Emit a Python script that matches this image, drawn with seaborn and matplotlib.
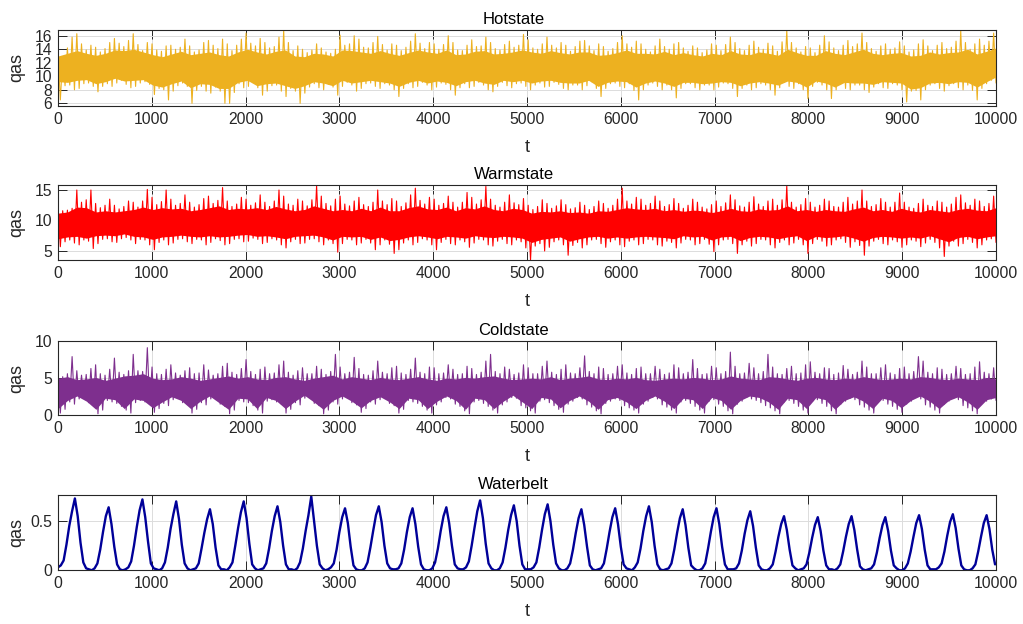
import numpy as np
import pandas as pd
import matplotlib
matplotlib.use("Agg")
import matplotlib.pyplot as plt
import seaborn as sns

sns.set_theme(style="white")
plt.rcParams['font.family'] = ['Liberation Sans', 'DejaVu Sans']

# ---- Hotstate: extremes per 50-step window, dense band per 100-step window ----
hot_max = [13.3, 12.9, 14.2, 15.8, 16.3, 14.8, 13.9, 14.6, 14.3, 13.6,
           14.1, 15.0, 15.6, 14.9, 14.4, 15.3, 16.3, 14.7, 13.8, 15.0,
           14.8, 13.9, 13.7, 14.5, 14.6, 14.0, 14.3, 15.5, 14.5, 13.6,
           13.9, 15.0, 15.3, 14.6, 14.1, 15.5, 14.8, 13.8, 14.6, 15.5,
           16.4, 14.9, 14.5, 15.6, 15.0, 14.2, 14.4, 15.8, 16.8, 15.0,
           13.8, 14.5, 14.0, 13.5, 13.9, 14.8, 14.2, 13.6, 13.4, 14.0,
           16.1, 14.6, 14.8, 16.0, 15.5, 14.3, 14.2, 15.0, 15.9, 14.7,
           13.9, 14.8, 14.6, 13.8, 14.3, 15.2, 16.3, 14.9, 14.1, 15.0,
           14.8, 14.0, 14.7, 16.0, 15.0, 13.9, 13.8, 14.6, 15.4, 14.4,
           14.5, 15.8, 15.0, 14.1, 13.9, 14.7, 15.2, 14.3, 14.6, 16.2,
           15.4, 14.2, 14.0, 14.8, 15.8, 14.6, 14.2, 15.0, 14.6, 13.7,
           14.4, 15.2, 15.3, 14.5, 13.8, 14.8, 14.4, 13.7, 14.1, 15.0,
           16.0, 14.8, 14.3, 15.2, 14.8, 14.0, 13.6, 14.5, 15.5, 14.4,
           14.0, 14.8, 15.0, 14.2, 13.7, 14.5, 14.2, 13.5, 13.9, 14.8,
           14.6, 13.8, 14.7, 15.8, 15.0, 14.1, 13.8, 14.6, 15.2, 14.3,
           14.0, 14.9, 14.5, 13.7, 15.1, 16.8, 15.0, 14.2, 13.6, 14.4,
           14.2, 13.5, 14.6, 16.0, 15.1, 14.2, 13.8, 14.6, 15.3, 14.4,
           14.8, 16.4, 15.0, 14.1, 13.7, 14.5, 14.8, 14.0, 14.2, 15.1,
           14.5, 13.6, 13.9, 14.8, 15.4, 14.5, 13.8, 14.6, 15.0, 14.1,
           14.3, 15.2, 16.7, 15.0, 14.0, 14.8, 15.5, 14.6, 15.2, 16.4]
hot_min = [6.5, 8.6, 8.7, 8.0, 8.2, 8.9, 9.0, 8.5, 7.7, 8.5,
           8.9, 8.5, 9.0, 9.4, 8.8, 8.3, 8.5, 9.0, 9.2, 8.8,
           7.3, 8.2, 8.0, 6.5, 7.8, 8.6, 9.0, 8.5, 6.0, 7.9,
           8.5, 7.8, 7.5, 8.4, 7.8, 6.0, 6.0, 7.6, 8.9, 8.3,
           8.5, 9.1, 8.3, 7.2, 7.8, 8.6, 8.7, 7.8, 7.0, 8.2,
           7.8, 6.0, 7.5, 8.4, 8.9, 8.3, 8.0, 8.8, 8.4, 7.2,
           8.5, 9.1, 8.7, 7.8, 8.2, 8.9, 9.0, 8.5, 8.2, 8.9,
           8.7, 8.0, 7.0, 8.2, 8.9, 8.3, 8.5, 9.1, 8.7, 8.0,
           8.4, 9.0, 8.8, 8.0, 7.2, 8.3, 8.9, 8.3, 8.5, 9.1,
           8.7, 8.0, 7.7, 8.5, 9.1, 8.6, 8.3, 8.9, 9.0, 8.5,
           8.0, 8.7, 9.0, 8.4, 8.5, 9.1, 8.8, 8.2, 8.0, 8.7,
           8.7, 8.0, 8.6, 9.2, 8.2, 7.0, 8.2, 8.9, 9.0, 8.5,
           8.3, 8.9, 7.9, 6.5, 8.0, 8.7, 9.0, 8.5, 8.0, 8.7,
           8.0, 6.8, 8.2, 8.9, 8.9, 8.3, 8.0, 8.7, 8.7, 8.0,
           8.4, 9.0, 8.9, 8.2, 7.0, 8.2, 8.7, 8.0, 8.3, 8.9,
           8.7, 8.0, 7.2, 8.3, 9.1, 8.5, 8.2, 8.9, 8.0, 6.7,
           8.5, 9.1, 8.7, 8.0, 6.7, 8.0, 8.9, 8.2, 8.0, 8.7,
           8.7, 8.0, 7.6, 8.4, 8.9, 8.3, 8.2, 8.9, 8.7, 8.0,
           6.2, 7.8, 7.9, 6.5, 8.0, 8.7, 8.9, 8.2, 7.8, 8.6,
           8.9, 8.3, 8.0, 8.7, 7.9, 6.5, 8.2, 8.9, 9.4, 9.0]
hot_top = [13.0, 13.4, 13.8, 13.4, 13.1, 13.4, 13.9, 13.8, 14.0, 13.6,
           13.2, 12.9, 13.3, 13.7, 13.2, 13.4, 13.6, 13.2, 13.0, 13.6,
           14.0, 13.6, 13.3, 13.7, 13.9, 13.0, 12.9, 13.4, 13.3, 13.0,
           13.9, 13.8, 13.6, 13.4, 13.8, 13.4, 13.1, 13.5, 13.9, 13.6,
           13.4, 13.9, 13.2, 13.3, 13.7, 13.8, 13.3, 13.4, 13.6, 13.9,
           13.6, 13.4, 13.8, 13.5, 13.3, 13.6, 13.6, 13.1, 13.2, 13.5,
           13.9, 13.4, 13.4, 13.3, 13.7, 13.2, 13.5, 13.2, 13.0, 13.4,
           13.2, 13.8, 13.3, 13.2, 13.6, 13.4, 13.1, 14.0, 13.5, 13.1,
           13.1, 13.8, 13.4, 13.2, 13.6, 14.0, 13.4, 13.2, 13.4, 13.5,
           13.0, 13.1, 13.6, 13.3, 13.5, 13.6, 14.0, 13.3, 13.7, 14.2]
hot_bot = [9.2, 9.1, 9.4, 9.5, 8.9, 9.2, 9.7, 9.3, 9.4, 9.5,
           8.7, 8.4, 8.9, 9.3, 8.3, 8.9, 8.8, 8.2, 8.2, 9.1,
           9.4, 8.6, 8.9, 9.0, 8.6, 8.2, 8.6, 9.2, 9.0, 8.6,
           9.4, 9.0, 9.2, 9.4, 9.2, 9.0, 8.5, 9.1, 9.4, 9.0,
           9.3, 9.1, 8.6, 9.2, 9.4, 9.0, 8.8, 9.4, 9.2, 9.4,
           9.0, 9.3, 9.4, 9.1, 9.0, 9.0, 9.4, 8.5, 9.1, 9.3,
           9.2, 8.4, 9.0, 9.3, 9.0, 8.5, 9.1, 9.1, 8.9, 9.0,
           9.2, 9.1, 8.6, 9.0, 9.2, 9.0, 8.7, 9.3, 9.1, 8.4,
           9.3, 9.0, 8.4, 9.1, 9.0, 9.0, 8.8, 9.2, 9.1, 9.0,
           8.1, 8.3, 9.0, 9.1, 8.9, 9.2, 9.1, 8.4, 9.2, 9.9]

# ---- Warmstate ----
warm_max = [12.2, 11.6, 11.7, 12.0, 15.0, 13.0, 13.4, 15.0, 12.8, 12.1,
            12.5, 13.5, 12.5, 11.9, 12.3, 13.2, 13.0, 12.2, 13.2, 15.1,
            13.8, 12.6, 13.1, 15.0, 13.5, 12.5, 12.8, 14.2, 13.0, 12.2,
            12.6, 13.6, 14.0, 12.8, 13.3, 15.4, 13.2, 12.3, 12.7, 13.8,
            13.5, 12.5, 12.9, 14.2, 13.0, 12.3, 13.2, 15.0, 14.0, 12.7,
            12.5, 13.5, 13.2, 12.4, 13.4, 15.7, 14.0, 12.8, 12.4, 13.5,
            14.0, 12.7, 12.4, 13.2, 13.8, 12.6, 12.3, 13.0, 15.0, 13.2,
            12.6, 13.6, 13.2, 12.3, 12.9, 14.2, 15.3, 13.3, 12.7, 13.8,
            13.5, 12.5, 12.8, 14.0, 13.0, 12.2, 13.0, 14.6, 13.8, 12.7,
            13.4, 15.6, 13.5, 12.5, 12.2, 13.0, 14.2, 12.9, 12.6, 13.6,
            12.5, 11.8, 12.3, 13.4, 12.8, 12.0, 12.4, 13.4, 12.6, 11.9,
            12.1, 13.0, 12.5, 11.8, 12.3, 13.2, 12.8, 12.0, 12.5, 13.5,
            15.3, 13.2, 12.7, 13.8, 13.5, 12.5, 12.8, 14.0, 13.2, 12.3,
            12.6, 13.6, 12.8, 12.0, 12.5, 13.5, 13.0, 12.2, 11.9, 12.6,
            13.2, 12.3, 12.9, 14.2, 13.4, 12.4, 12.2, 13.0, 13.9, 12.7,
            12.3, 13.2, 13.5, 12.5, 13.4, 15.7, 13.0, 12.2, 12.6, 13.6,
            13.0, 12.2, 12.5, 13.5, 13.2, 12.3, 12.2, 13.0, 13.8, 12.7,
            13.2, 15.0, 13.2, 12.3, 12.6, 13.6, 13.0, 12.2, 13.0, 14.5,
            13.0, 12.2, 12.0, 12.8, 13.5, 12.5, 12.3, 13.2, 13.0, 12.2,
            12.7, 13.8, 14.2, 12.9, 12.5, 13.5, 13.2, 12.3, 12.8, 14.0]
warm_min = [5.7, 6.5, 6.8, 6.3, 6.0, 6.8, 6.6, 5.4, 6.2, 6.9,
            7.0, 6.5, 6.4, 7.0, 7.2, 6.8, 6.2, 6.9, 6.8, 6.0,
            5.2, 6.4, 6.8, 6.0, 6.3, 6.9, 7.0, 6.5, 6.2, 6.9,
            6.8, 6.0, 6.4, 7.0, 6.7, 6.0, 6.2, 6.9, 7.0, 6.5,
            6.6, 7.1, 6.9, 6.2, 6.4, 7.0, 6.8, 6.0, 5.5, 6.5,
            6.9, 6.2, 6.3, 6.9, 7.0, 6.5, 6.0, 6.8, 6.2, 4.8,
            6.2, 6.9, 6.8, 6.0, 6.3, 6.9, 6.3, 5.2, 6.0, 6.8,
            6.1, 4.6, 5.2, 6.3, 6.8, 6.0, 6.4, 7.0, 6.8, 6.0,
            5.2, 6.4, 6.9, 6.2, 6.0, 6.8, 6.5, 5.6, 6.3, 6.9,
            6.8, 6.0, 5.8, 6.6, 6.9, 6.2, 6.0, 6.8, 6.5, 5.5,
            3.5, 5.8, 6.2, 5.0, 5.6, 6.5, 6.8, 6.0, 4.3, 5.9,
            6.4, 5.5, 6.0, 6.8, 6.9, 6.2, 5.6, 6.5, 6.8, 6.0,
            5.7, 6.6, 6.8, 6.0, 6.2, 6.9, 6.8, 6.0, 5.8, 6.6,
            6.4, 5.5, 6.3, 6.9, 6.8, 6.0, 6.2, 6.9, 6.1, 4.9,
            6.0, 6.8, 6.9, 6.2, 4.6, 6.0, 6.6, 5.8, 6.2, 6.9,
            6.8, 6.0, 5.5, 6.4, 6.8, 6.0, 6.3, 6.9, 6.0, 4.6,
            6.2, 6.9, 6.6, 5.8, 6.0, 6.8, 7.0, 6.4, 5.6, 6.5,
            5.9, 4.3, 5.8, 6.6, 6.9, 6.2, 6.0, 6.8, 6.5, 5.6,
            6.0, 6.8, 6.6, 5.7, 6.3, 6.9, 6.4, 5.5, 4.1, 5.8,
            6.6, 5.8, 6.2, 6.9, 6.4, 5.5, 6.0, 6.8, 7.0, 6.4]
warm_top = [11.2, 11.4, 12.2, 12.1, 11.4, 11.6, 11.4, 11.6, 11.8, 12.2,
            11.8, 12.1, 11.9, 12.0, 11.6, 11.8, 12.1, 12.4, 11.8, 12.0,
            11.9, 12.1, 11.8, 12.3, 11.9, 11.6, 11.8, 12.4, 12.0, 11.6,
            11.8, 11.6, 12.0, 11.6, 12.2, 11.6, 11.6, 12.1, 12.4, 11.9,
            11.8, 12.2, 11.6, 12.1, 11.9, 12.4, 11.8, 11.6, 12.0, 11.8,
            11.2, 11.5, 11.4, 11.6, 11.3, 11.4, 11.2, 11.6, 11.5, 11.8,
            12.1, 11.9, 11.8, 12.0, 11.6, 11.8, 11.5, 11.7, 11.6, 11.3,
            11.6, 12.0, 11.6, 11.5, 11.9, 11.7, 11.8, 12.4, 11.6, 11.8,
            11.5, 11.8, 11.6, 11.5, 11.9, 12.2, 11.6, 11.8, 11.5, 12.0,
            11.6, 11.4, 11.8, 11.6, 11.4, 11.8, 12.0, 11.7, 11.6, 12.1]
warm_bot = [7.0, 7.3, 7.4, 7.1, 7.5, 7.6, 7.5, 7.8, 7.4, 7.3,
            6.9, 7.3, 7.4, 7.6, 7.4, 7.3, 7.5, 7.3, 7.4, 7.6,
            7.7, 7.4, 7.5, 7.3, 7.0, 7.4, 7.5, 7.6, 7.3, 6.8,
            7.4, 7.3, 7.4, 6.9, 7.3, 6.7, 6.9, 7.3, 7.5, 7.3,
            7.0, 7.4, 7.3, 7.1, 7.5, 7.3, 7.2, 7.4, 7.3, 7.1,
            6.4, 6.9, 7.1, 7.3, 6.6, 7.0, 7.3, 7.4, 7.1, 7.3,
            7.1, 7.3, 7.4, 7.3, 7.2, 7.0, 7.5, 7.3, 7.4, 6.8,
            7.3, 7.4, 6.7, 7.2, 7.4, 7.3, 7.0, 7.3, 7.5, 6.7,
            7.4, 7.2, 7.3, 7.5, 7.1, 6.6, 7.2, 7.4, 7.3, 7.1,
            7.3, 7.1, 7.5, 7.0, 6.5, 7.2, 7.4, 7.0, 7.3, 7.5]

# ---- Coldstate ----
cold_max = [5.5, 5.2, 5.6, 7.9, 6.0, 5.4, 5.5, 6.3, 6.8, 5.6,
            5.4, 6.2, 7.7, 5.8, 5.5, 6.0, 8.2, 6.0, 5.9, 9.1,
            6.5, 5.6, 5.5, 6.2, 6.8, 5.7, 5.4, 6.0, 6.4, 5.6,
            5.7, 6.8, 6.1, 5.4, 5.6, 6.6, 7.0, 5.8, 5.5, 6.3,
            7.5, 5.9, 5.5, 6.2, 6.5, 5.6, 5.7, 6.8, 7.3, 5.8,
            5.4, 6.0, 6.4, 5.6, 5.6, 6.6, 6.2, 5.5, 5.9, 8.2,
            6.5, 5.6, 5.8, 7.8, 6.3, 5.5, 5.4, 6.0, 7.3, 5.8,
            5.6, 6.4, 6.6, 5.7, 5.5, 6.2, 7.7, 5.8, 5.6, 6.5,
            6.4, 5.6, 5.7, 6.8, 6.2, 5.5, 5.6, 6.6, 6.3, 5.5,
            5.8, 7.3, 8.2, 5.9, 5.6, 6.5, 6.2, 5.5, 5.7, 6.8,
            6.4, 5.6, 5.6, 6.6, 7.3, 5.8, 5.5, 6.2, 6.8, 5.7,
            5.6, 6.4, 8.0, 5.9, 5.6, 6.5, 6.3, 5.5, 5.6, 6.6,
            6.8, 5.7, 5.5, 6.3, 6.5, 5.6, 5.6, 6.6, 6.2, 5.5,
            5.7, 6.8, 6.4, 5.6, 5.8, 7.5, 6.3, 5.5, 5.6, 6.6,
            6.4, 5.6, 5.9, 8.5, 6.6, 5.6, 5.7, 7.0, 6.4, 5.6,
            5.9, 8.2, 6.5, 5.6, 5.5, 6.3, 6.6, 5.6, 5.7, 6.8,
            7.2, 5.8, 5.6, 6.4, 6.3, 5.5, 5.7, 6.7, 6.2, 5.5,
            5.8, 7.3, 6.5, 5.6, 5.6, 6.4, 6.8, 5.7, 5.5, 6.3,
            6.5, 5.6, 5.9, 7.9, 7.3, 5.8, 5.6, 6.4, 6.2, 5.5,
            5.6, 6.6, 6.3, 5.5, 5.6, 6.5, 7.2, 5.8, 5.6, 6.4]
cold_min = [0.3, 0.8, 1.8, 1.5, 2.2, 2.4, 1.7, 1.4, 0.2, 0.7,
            2.0, 1.8, 1.6, 1.2, 0.7, 0.3, 1.7, 2.0, 1.8, 1.5,
            0.4, 0.9, 1.6, 1.3, 2.1, 2.3, 1.7, 1.5, 0.3, 0.8,
            1.7, 1.4, 2.2, 2.4, 1.5, 1.2, 0.2, 0.7, 2.0, 1.8,
            1.7, 1.3, 0.7, 0.3, 1.9, 2.1, 1.8, 1.5, 0.3, 0.8,
            1.7, 1.4, 2.3, 2.4, 1.6, 1.3, 0.2, 0.7, 1.8, 1.5,
            2.2, 2.4, 1.7, 1.4, 0.4, 0.9, 1.8, 1.5, 2.1, 2.3,
            1.6, 1.3, 0.3, 0.8, 2.0, 1.8, 1.6, 1.2, 0.7, 0.3,
            1.4, 1.8, 2.4, 2.2, 1.5, 1.2, 0.6, 0.2, 1.8, 2.0,
            1.6, 1.2, 0.7, 0.3, 1.4, 1.8, 2.4, 2.3, 1.3, 1.0,
            0.6, 0.3, 1.9, 2.1, 1.7, 1.3, 0.8, 0.4, 1.5, 1.9,
            2.4, 2.2, 1.4, 1.1, 0.6, 0.2, 1.6, 1.9, 2.2, 2.0,
            1.3, 1.0, 0.7, 0.3, 1.5, 1.9, 2.4, 2.2, 1.4, 1.1,
            0.7, 0.3, 1.8, 2.0, 1.6, 1.2, 0.7, 0.3, 1.9, 2.1,
            1.5, 1.2, 0.6, 0.2, 1.5, 1.9, 2.4, 2.2, 2.0, 1.7,
            1.3, 1.0, 0.6, 0.2, 1.8, 2.0, 1.6, 1.2, 0.7, 0.3,
            1.9, 2.1, 1.6, 1.2, 0.6, 0.2, 1.5, 1.9, 2.3, 2.1,
            1.4, 1.1, 0.7, 0.3, 1.8, 2.0, 1.5, 1.2, 0.8, 0.4,
            1.5, 1.9, 2.4, 2.2, 1.4, 1.1, 0.7, 0.3, 1.5, 1.9,
            2.3, 2.1, 1.3, 1.0, 0.6, 0.2, 1.6, 1.9, 2.2, 2.0]
cold_top = [5.0, 5.2, 4.8, 4.9, 5.1, 4.7, 5.0, 5.3, 5.4, 5.6,
            5.0, 4.8, 4.9, 5.2, 5.0, 4.7, 4.9, 5.1, 5.3, 5.0,
            5.2, 4.9, 4.8, 5.1, 5.2, 4.9, 4.7, 5.0, 5.2, 5.4,
            4.9, 5.2, 5.0, 4.8, 5.1, 4.9, 4.8, 5.0, 5.2, 4.9,
            4.7, 5.0, 4.9, 5.1, 5.0, 5.2, 5.3, 5.0, 4.8, 4.9,
            5.0, 4.9, 5.2, 4.8, 5.0, 5.1, 5.3, 4.9, 4.8, 5.0,
            4.9, 5.1, 4.8, 4.7, 4.9, 5.0, 4.9, 5.1, 5.0, 4.8,
            4.9, 5.3, 5.0, 4.9, 4.8, 5.2, 5.1, 4.9, 4.7, 5.0,
            5.1, 4.9, 4.8, 5.0, 4.9, 5.2, 5.0, 4.8, 4.9, 5.0,
            4.9, 5.2, 5.1, 4.9, 4.8, 5.0, 4.9, 4.8, 5.1, 4.9]
cold_bot = [0.9, 2.0, 2.6, 1.9, 0.8, 2.3, 2.1, 0.9, 2.2, 2.0,
            1.0, 1.8, 2.5, 2.0, 0.9, 1.9, 2.6, 1.7, 0.8, 2.3,
            2.2, 0.9, 2.4, 2.0, 0.9, 1.9, 2.7, 1.8, 0.8, 2.0,
            2.6, 1.9, 1.0, 2.0, 2.5, 1.8, 0.9, 2.3, 2.1, 0.9,
            1.9, 2.6, 2.0, 0.8, 2.3, 2.1, 0.9, 1.9, 2.7, 1.8,
            0.9, 2.4, 2.2, 1.0, 2.0, 2.6, 1.9, 0.8, 2.1, 2.4,
            1.8, 0.9, 2.0, 2.6, 1.9, 0.9, 2.3, 2.1, 0.9, 2.4,
            2.0, 0.8, 2.0, 2.6, 2.4, 1.8, 0.8, 2.3, 2.1, 0.9,
            2.4, 2.1, 0.8, 2.0, 2.5, 1.9, 0.9, 2.3, 2.0, 1.0,
            2.0, 2.6, 1.9, 0.9, 2.0, 2.5, 1.8, 0.8, 2.1, 2.4]

# ---- Waterbelt: one value every 30 steps, one row per annual cycle ----
water = [
    0.03, 0.05, 0.10, 0.26, 0.45, 0.60, 0.73, 0.55, 0.28, 0.08, 0.02, 0.01,
    0.00, 0.02, 0.07, 0.21, 0.39, 0.55, 0.64, 0.47, 0.24, 0.06, 0.01, 0.00,
    0.01, 0.03, 0.09, 0.25, 0.44, 0.61, 0.72, 0.54, 0.29, 0.07, 0.02, 0.01,
    0.00, 0.02, 0.08, 0.23, 0.42, 0.57, 0.70, 0.52, 0.26, 0.07, 0.02, 0.00,
    0.01, 0.02, 0.07, 0.22, 0.38, 0.52, 0.62, 0.47, 0.23, 0.05, 0.01, 0.01,
    0.00, 0.03, 0.08, 0.25, 0.43, 0.59, 0.70, 0.53, 0.27, 0.06, 0.02, 0.00,
    0.01, 0.02, 0.07, 0.22, 0.40, 0.55, 0.65, 0.49, 0.25, 0.06, 0.01, 0.01,
    0.00, 0.02, 0.08, 0.22, 0.40, 0.56, 0.75, 0.50, 0.25, 0.06, 0.02, 0.00,
    0.01, 0.03, 0.07, 0.21, 0.39, 0.54, 0.63, 0.48, 0.24, 0.05, 0.01, 0.00,
    0.00, 0.02, 0.08, 0.23, 0.40, 0.56, 0.65, 0.49, 0.25, 0.07, 0.02, 0.01,
    0.01, 0.02, 0.07, 0.21, 0.39, 0.54, 0.63, 0.47, 0.24, 0.06, 0.01, 0.00,
    0.00, 0.02, 0.08, 0.22, 0.40, 0.55, 0.64, 0.48, 0.25, 0.06, 0.02, 0.01,
    0.01, 0.03, 0.09, 0.25, 0.43, 0.60, 0.71, 0.53, 0.27, 0.07, 0.02, 0.00,
    0.00, 0.02, 0.08, 0.23, 0.41, 0.56, 0.66, 0.50, 0.25, 0.06, 0.01, 0.01,
    0.01, 0.03, 0.08, 0.23, 0.41, 0.57, 0.67, 0.50, 0.26, 0.07, 0.02, 0.00,
    0.00, 0.02, 0.07, 0.21, 0.38, 0.53, 0.62, 0.46, 0.24, 0.05, 0.01, 0.00,
    0.01, 0.02, 0.07, 0.22, 0.39, 0.54, 0.63, 0.47, 0.24, 0.06, 0.02, 0.01,
    0.00, 0.03, 0.08, 0.22, 0.40, 0.55, 0.65, 0.49, 0.25, 0.06, 0.01, 0.00,
    0.01, 0.02, 0.07, 0.21, 0.38, 0.53, 0.62, 0.46, 0.23, 0.05, 0.02, 0.00,
    0.00, 0.02, 0.07, 0.22, 0.39, 0.54, 0.63, 0.47, 0.24, 0.06, 0.01, 0.01,
    0.01, 0.02, 0.07, 0.20, 0.37, 0.51, 0.60, 0.45, 0.23, 0.05, 0.01, 0.00,
    0.00, 0.02, 0.06, 0.19, 0.34, 0.47, 0.55, 0.41, 0.21, 0.05, 0.02, 0.00,
    0.01, 0.02, 0.06, 0.18, 0.33, 0.46, 0.54, 0.40, 0.20, 0.05, 0.01, 0.01,
    0.00, 0.02, 0.06, 0.19, 0.34, 0.47, 0.55, 0.41, 0.21, 0.04, 0.01, 0.00,
    0.01, 0.02, 0.06, 0.18, 0.33, 0.46, 0.54, 0.40, 0.20, 0.05, 0.02, 0.00,
    0.00, 0.02, 0.07, 0.19, 0.34, 0.48, 0.56, 0.42, 0.21, 0.05, 0.01, 0.01,
    0.01, 0.03, 0.07, 0.19, 0.35, 0.49, 0.57, 0.43, 0.22, 0.05, 0.01, 0.00,
    0.00, 0.02, 0.06, 0.19, 0.34, 0.48, 0.56, 0.42, 0.21, 0.06,
]
water_step = 30

titles = ["Hotstate", "Warmstate", "Coldstate", "Waterbelt"]
colors = ["#EDB120", "#FF0000", "#7E2F8E", "#000099"]
ylims = [(5.6, 16.85), (3.47, 15.82), (0, 10), (0, 0.765)]
yticks = [[6, 8, 10, 12, 14, 16], [5, 10, 15], [0, 5, 10], [0, 0.5]]
yticklabels = [["6", "8", "10", "12", "14", "16"], ["5", "10", "15"],
               ["0", "5", "10"], ["0", "0.5"]]
xticks = list(range(0, 10001, 1000))
T_END = 10000

INK = "#262626"
GRID = "#dcdcdc"

fig = plt.figure(figsize=(10.23, 6.24), dpi=100)
W, H = 1023, 624
LEFT, RIGHT = 58, 996
boxes = [(30, 106), (185, 260.3), (341, 415.3), (495, 570.3)]
axes = [fig.add_axes([LEFT / W, 1 - b / H, (RIGHT - LEFT) / W, (b - t) / H])
        for t, b in boxes]


def zigzag_frame(mx, mn):
    n = len(mx)
    zig = np.empty(2 * n)
    zig[0::2] = mx
    zig[1::2] = mn
    return pd.DataFrame({"t": np.linspace(0, T_END, 2 * n), "qas": zig})


bands = [(hot_max, hot_min, hot_top, hot_bot),
         (warm_max, warm_min, warm_top, warm_bot),
         (cold_max, cold_min, cold_top, cold_bot)]

for ax, (mx, mn, top, bot), c in zip(axes[:3], bands, colors[:3]):
    t_core = np.linspace(0, T_END, len(top))
    ax.fill_between(t_core, bot, top, color=c, lw=0, zorder=2)
    sns.lineplot(data=zigzag_frame(mx, mn), x="t", y="qas", ax=ax, color=c,
                 lw=0.8, estimator=None, sort=False, zorder=3)

wdf = pd.DataFrame({"t": np.arange(len(water)) * water_step, "qas": water})
sns.lineplot(data=wdf, x="t", y="qas", ax=axes[3], color=colors[3], lw=1.7,
             estimator=None, sort=False, zorder=3)

XLABEL_DROP = 41   # pixels from the bottom spine to the centre of "t"
YLABEL_X = 17      # pixel column of the centre of "qas"
TITLE_X = 513.5    # pixel column of the title centre

for i, ax in enumerate(axes):
    t_px, b_px = boxes[i]
    h_px = b_px - t_px
    ax.set_xlim(0, T_END)
    ax.set_ylim(*ylims[i])
    ax.set_xticks(xticks)
    ax.set_xticklabels([str(v) for v in xticks])
    ax.set_yticks(yticks[i])
    ax.set_yticklabels(yticklabels[i])
    ax.grid(True, color=GRID, lw=0.7, zorder=0)
    ax.set_axisbelow(True)
    for s in ax.spines.values():
        s.set_visible(True)
        s.set_color(INK)
        s.set_linewidth(0.8)
        s.set_zorder(5)
    ax.tick_params(direction="in", length=6.5, width=0.7, color=INK,
                   labelcolor=INK, labelsize=11.3, top=True, right=True,
                   bottom=True, left=True, pad=4)
    ax.set_xlabel("t", fontsize=13, color=INK)
    ax.xaxis.label.set_va("center")
    ax.xaxis.set_label_coords(0.5, -XLABEL_DROP / h_px)
    ax.set_ylabel("qas", fontsize=13, color=INK)
    ax.yaxis.label.set_va("center")
    ax.yaxis.set_label_coords((YLABEL_X - LEFT) / (RIGHT - LEFT), 0.5)
    ax.set_title(titles[i], fontsize=12, color="black", pad=4)
    ax.title.set_x((TITLE_X - LEFT) / (RIGHT - LEFT))

fig.savefig("out.png", dpi=100)
